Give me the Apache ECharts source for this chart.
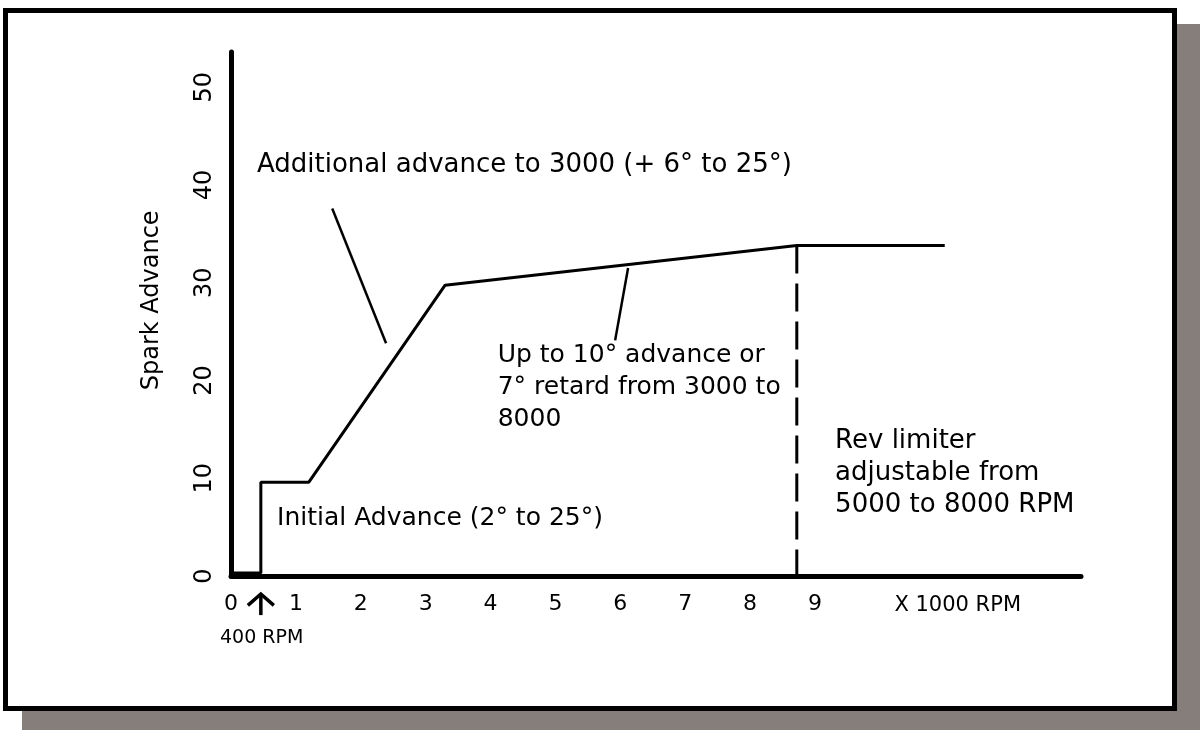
<!DOCTYPE html>
<html>
<head>
<meta charset="utf-8">
<script src="https://cdn.jsdelivr.net/npm/echarts@6/dist/echarts.min.js"></script>
<style>
  html, body { margin:0; padding:0; background:#fff; }
  #shadow { position:absolute; left:22px; top:24px; width:1178px; height:706px; background:#857e7a; }
  #frame { position:absolute; left:3px; top:8px; width:1164px; height:693px; border:5px solid #000; background:#fff; }
  #chart { position:absolute; left:0; top:0; width:1200px; height:730px; }
</style>
</head>
<body>
<div id="shadow"></div>
<div id="frame"></div>
<div id="chart"></div>
<script>
// ---- data (x in 1000 RPM, y in degrees of spark advance) ----
const rpm      = [0, 0.46, 0.46, 1.20, 3.30, 8.72, 11.0];
const advance  = [0.3, 0.3, 9.6, 9.6, 29.75, 33.8, 33.8];
const limiterRpm = [8.72, 8.72];
const limiterAdv = [33.8, 0];
const leaderARpm = [1.56, 2.39];
const leaderAAdv = [37.6, 23.8];
const leaderBRpm = [6.12, 5.92];
const leaderBAdv = [31.5, 24.1];
const xTickLabels = ['0','1','2','3','4','5','6','7','8','9'];
const yTickLabels = ['0','10','20','30','40','50'];
const axisTitleY = 'Spark Advance';
const axisUnitX = 'X 1000 RPM';
const idleRpm = 0.46;
const idleLabel = '400 RPM';
const notes = [
  'Additional advance to 3000 (+ 6° to 25°)',
  'Up to 10° advance or\n7° retard from 3000 to\n8000',
  'Rev limiter\nadjustable from\n5000 to 8000 RPM',
  'Initial Advance (2° to 25°)'
];

const pair = (xs, ys) => xs.map((x, i) => [x, ys[i]]);
const FONT = '"DejaVu Sans", sans-serif';
const chart = echarts.init(document.getElementById('chart'), null, {renderer:'canvas'});

const lineStyle = {color:'#000', width:3};
chart.setOption({
  animation:false,
  backgroundColor:'transparent',
  grid:{left:231, right:119, top:52, bottom:154},
  xAxis:{
    type:'value', min:0, max:13.1, interval:1,
    axisLine:{lineStyle:{color:'#000', width:5}},
    axisTick:{show:false}, splitLine:{show:false},
    axisLabel:{
      color:'#000', fontSize:22, fontFamily:FONT, margin:17,
      formatter:v => (Number.isInteger(v) && v < xTickLabels.length) ? xTickLabels[v] : ''
    }
  },
  yAxis:{
    type:'value', min:0, max:53.6, interval:10,
    axisLine:{lineStyle:{color:'#000', width:5}},
    axisTick:{show:false}, splitLine:{show:false},
    axisLabel:{
      color:'#000', fontSize:24, fontFamily:FONT, margin:14, rotate:90,
      formatter:v => (v % 10 === 0 && v/10 < yTickLabels.length) ? yTickLabels[v/10] : ''
    }
  },
  series:[
    {type:'line', data:pair(rpm, advance), symbol:'none', lineStyle, z:5},
    {type:'line', data:pair(limiterRpm, limiterAdv), symbol:'none', lineStyle:{color:'#000', width:3, type:[28,10]}, z:4},
    {type:'line', data:pair(leaderARpm, leaderAAdv), symbol:'none', lineStyle:{color:'#000', width:2.5}, z:4},
    {type:'line', data:pair(leaderBRpm, leaderBAdv), symbol:'none', lineStyle:{color:'#000', width:2.5}, z:4}
  ]
});

// ---- annotations placed in data coordinates ----
const px = (x, y) => chart.convertToPixel({gridIndex:0}, [x, y]);
const textEl = (str, at, opts) => {
  const p = px(at[0], at[1]);
  return Object.assign({
    type:'text', x:p[0], y:p[1], z:10,
    style:Object.assign({text:str, fill:'#000', font:'26px ' + FONT, textAlign:'left', textVerticalAlign:'middle', lineHeight:32}, opts && opts.style || {})
  }, opts && opts.el || {});
};
const tip = px(idleRpm, -1.84), wingL = px(idleRpm - 0.2, -3.0), wingR = px(idleRpm + 0.2, -3.0), tail = px(idleRpm, -4.0);

chart.setOption({
  graphic:[
    textEl(notes[0], [0.40, 42.0]),
    textEl(notes[1], [4.11, 19.3], {style:{font:'25px ' + FONT}}),
    textEl(notes[2], [9.31, 10.5]),
    textEl(notes[3], [0.71, 5.9], {style:{font:'25px ' + FONT}}),
    textEl(idleLabel, [-0.17, -6.3], {style:{font:'19px ' + FONT}}),
    textEl(axisUnitX, [11.2, -3.0], {style:{font:'21px ' + FONT, textAlign:'center'}}),
    textEl(axisTitleY, [-1.22, 28.2], {style:{font:'24px ' + FONT, textAlign:'center'}, el:{rotation:Math.PI/2}}),
    {type:'polyline', z:10, shape:{points:[wingL, tip, wingR]}, style:{stroke:'#000', lineWidth:3.5, fill:null}},
    {type:'line', z:10, shape:{x1:tip[0], y1:tip[1], x2:tail[0], y2:tail[1]}, style:{stroke:'#000', lineWidth:3.5}}
  ]
});
</script>
</body>
</html>
